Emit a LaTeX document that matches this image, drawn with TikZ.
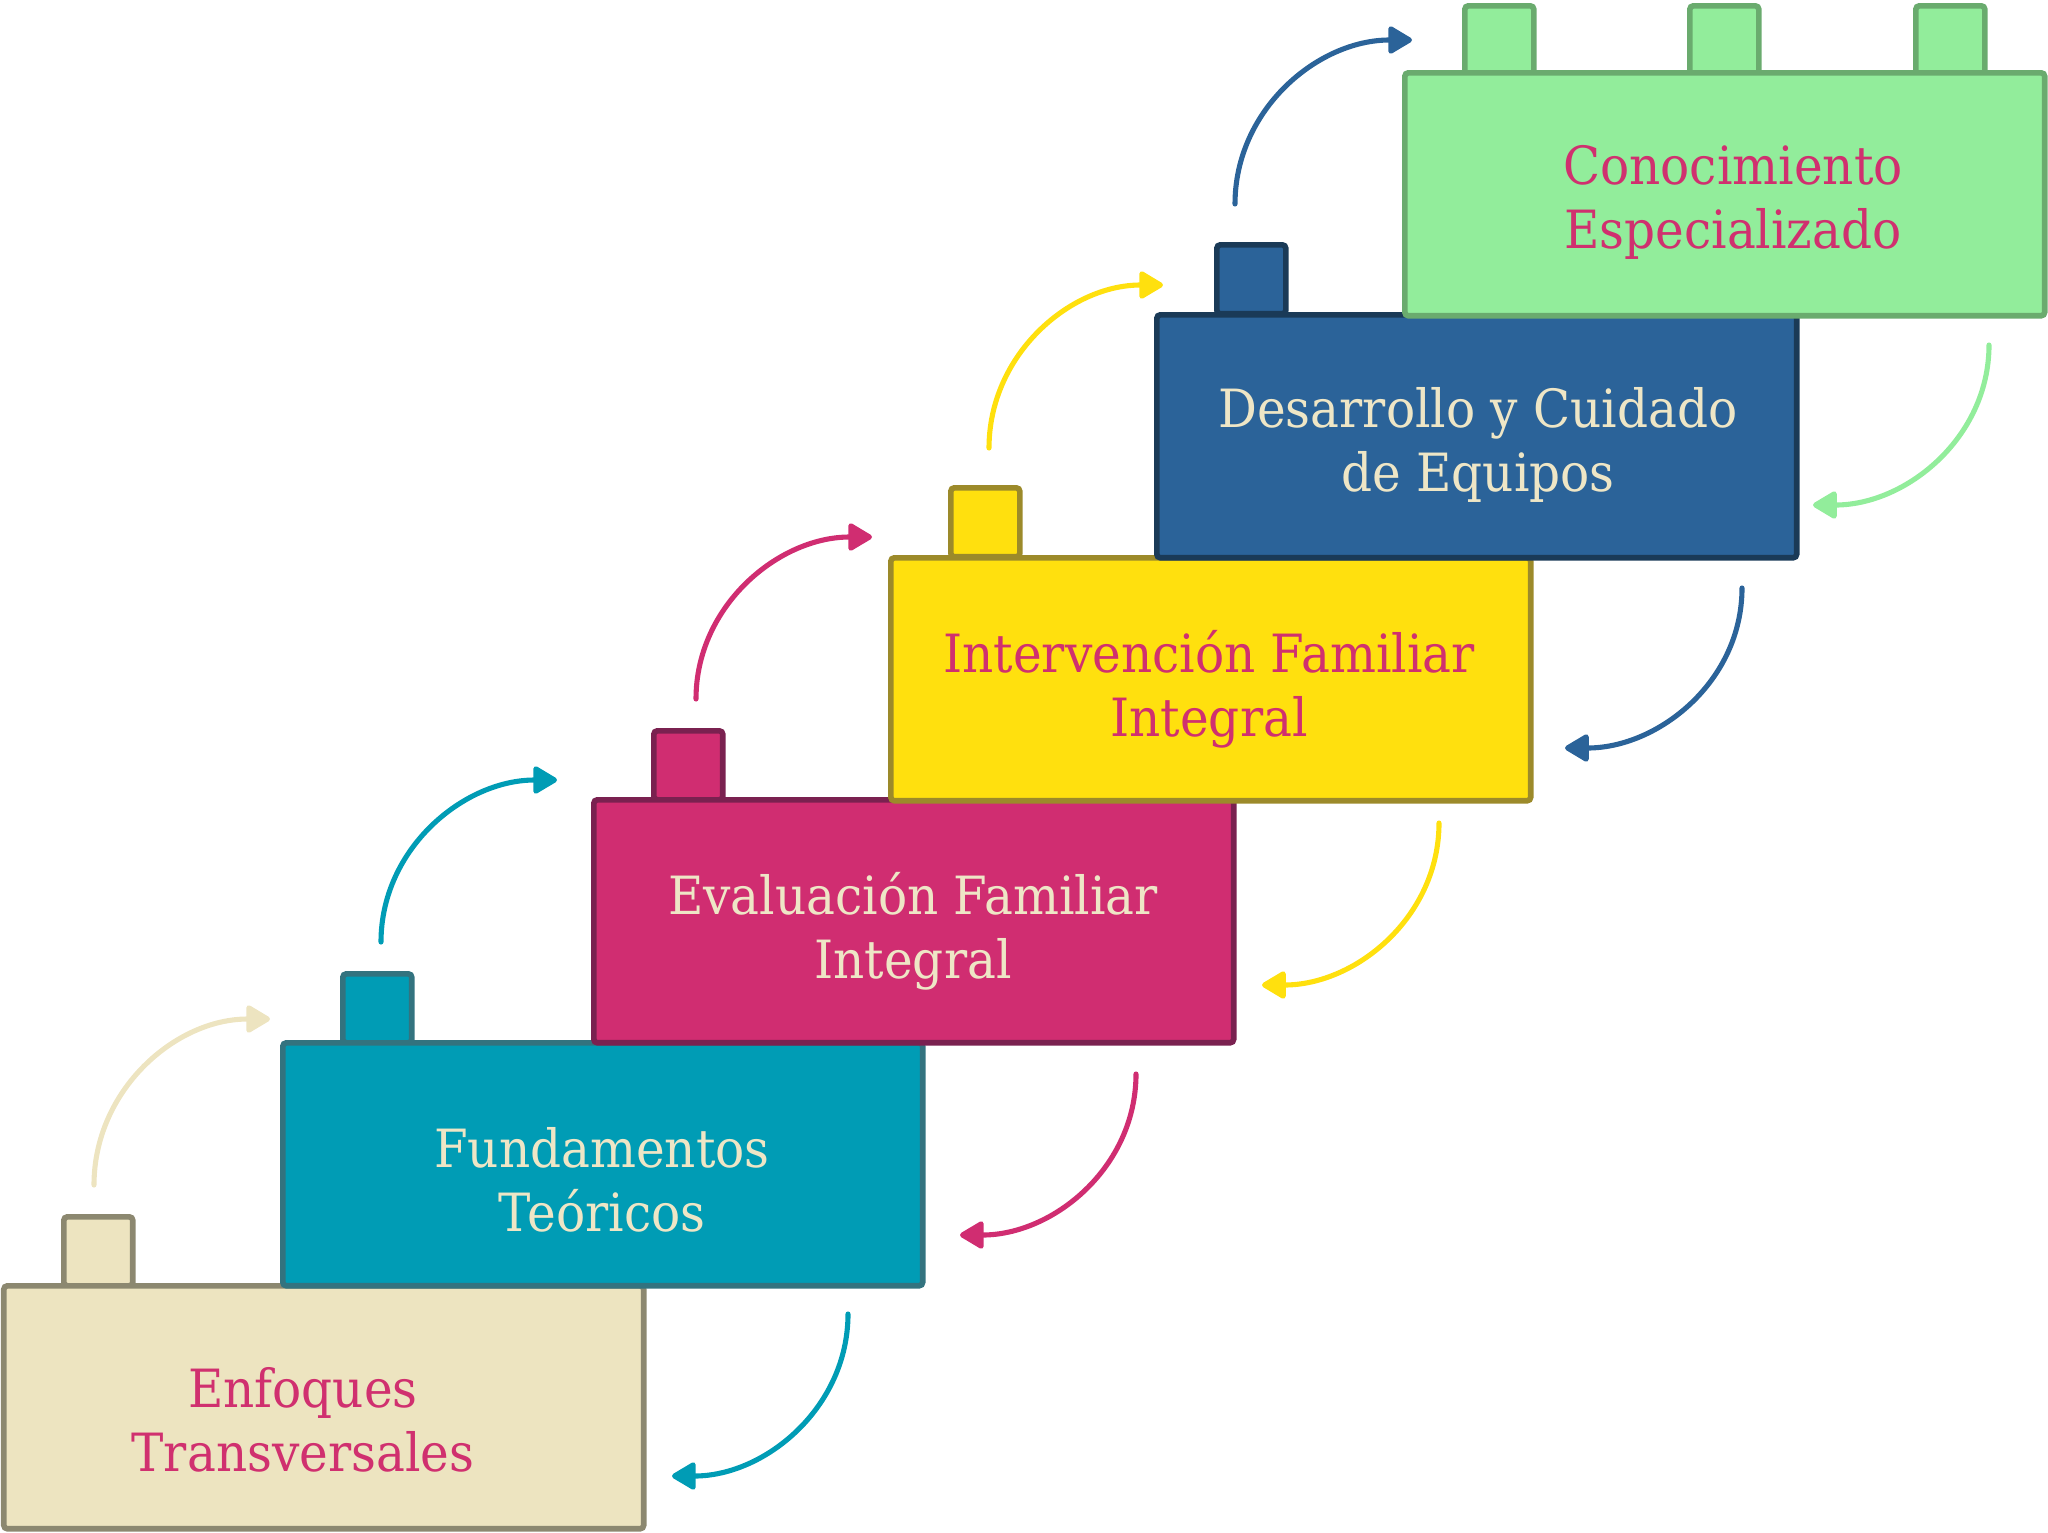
\documentclass[tikz,border=0pt]{standalone}
\usepackage{fontspec}
\setmainfont{DejaVu Serif}[FakeStretch=0.92]
\usetikzlibrary{arrows.meta}

\definecolor{sandfill}{HTML}{EDE4C0}
\definecolor{sandline}{HTML}{8C8870}
\definecolor{seafill}{HTML}{009CB5}
\definecolor{sealine}{HTML}{33737F}
\definecolor{rosefill}{HTML}{D02D71}
\definecolor{roseline}{HTML}{7A2150}
\definecolor{sunfill}{HTML}{FFE00E}
\definecolor{sunline}{HTML}{9C8A2A}
\definecolor{navyfill}{HTML}{2B6399}
\definecolor{navyline}{HTML}{1A3A57}
\definecolor{mintfill}{HTML}{92ED9B}
\definecolor{mintline}{HTML}{6AAB6E}
\definecolor{pinktext}{HTML}{D0306F}
\definecolor{creamtext}{HTML}{EEE6C6}

\begin{document}
\begin{tikzpicture}[x=0.02cm,y=-0.02cm,
        block/.style={draw,line width=3.2pt,rounded corners=2pt,anchor=north west,
            minimum width=12.8cm,minimum height=4.86cm,inner sep=0pt},
        tab/.style={draw,line width=3.2pt,rounded corners=2pt,anchor=north west,
            minimum width=1.38cm,minimum height=1.38cm,inner sep=0pt},
        blocktext/.style={align=center,font=\fontsize{30}{36.5}\selectfont},
        flow/.style={line width=2.9pt,line cap=round,-{Triangle[round,length=15pt,width=17pt]}}]
        \useasboundingbox (0,0) rectangle (2048,1532);

        % steps, bottom to top
        \node[tab,fill=sandfill,draw=sandline] (t1) at (61,1214) {};
        \node[block,fill=sandfill,draw=sandline] (b1) at (1,1283) {};
        \node[blocktext,text=pinktext] (l1) at (303,1420) {Enfoques\\Transversales};

        \node[tab,fill=seafill,draw=sealine] (t2) at (340,971) {};
        \node[block,fill=seafill,draw=sealine] (b2) at (280,1040) {};
        \node[blocktext,text=creamtext] (l2) at (602,1180) {Fundamentos\\Teóricos};

        \node[tab,fill=rosefill,draw=roseline] (t3) at (651,728) {};
        \node[block,fill=rosefill,draw=roseline] (b3) at (591,797) {};
        \node[blocktext,text=creamtext] (l3) at (913,931) {Evaluación Familiar\\Integral};

        \node[tab,fill=sunfill,draw=sunline] (t4) at (948,485) {};
        \node[block,fill=sunfill,draw=sunline] (b4) at (888,555) {};
        \node[blocktext,text=pinktext] (l4) at (1209,689) {Intervención Familiar\\Integral};

        \node[tab,fill=navyfill,draw=navyline] (t5) at (1214,242) {};
        \node[block,fill=navyfill,draw=navyline] (b5) at (1154,312) {};
        \node[blocktext,text=creamtext] (l5) at (1478,445) {Desarrollo y Cuidado\\de Equipos};

        \node[tab,fill=mintfill,draw=mintline] (t6a) at (1462,3) {};
        \node[tab,fill=mintfill,draw=mintline] (t6b) at (1687,3) {};
        \node[tab,fill=mintfill,draw=mintline] (t6c) at (1913,3) {};
        \node[block,fill=mintfill,draw=mintline] (b6) at (1402,70) {};
        \node[blocktext,text=pinktext] (l6) at (1733,202) {Conocimiento\\Especializado};

        % arrow ends
        \coordinate (up1s) at (94,1185);   \coordinate (up1e) at (270,1019);
        \coordinate (up2s) at (381,942);   \coordinate (up2e) at (557,780);
        \coordinate (up3s) at (696,699);   \coordinate (up3e) at (872,537);
        \coordinate (up4s) at (989,448);   \coordinate (up4e) at (1163,285);
        \coordinate (up5s) at (1235,204);  \coordinate (up5e) at (1412,40);
        \coordinate (dn6s) at (1989,345);  \coordinate (dn6e) at (1813,505);
        \coordinate (dn5s) at (1742,588);  \coordinate (dn5e) at (1565,748);
        \coordinate (dn4s) at (1439,823);  \coordinate (dn4e) at (1262,985);
        \coordinate (dn3s) at (1136,1074); \coordinate (dn3e) at (960,1235);
        \coordinate (dn2s) at (848,1314);  \coordinate (dn2e) at (672,1476);

        \draw[flow,sandfill] (up1s) to[out=90,in=180] (up1e);
        \draw[flow,seafill] (up2s) to[out=90,in=180] (up2e);
        \draw[flow,rosefill] (up3s) to[out=90,in=180] (up3e);
        \draw[flow,sunfill] (up4s) to[out=90,in=180] (up4e);
        \draw[flow,navyfill] (up5s) to[out=90,in=180] (up5e);

        \draw[flow,mintfill] (dn6s) to[out=-90,in=0] (dn6e);
        \draw[flow,navyfill] (dn5s) to[out=-90,in=0] (dn5e);
        \draw[flow,sunfill] (dn4s) to[out=-90,in=0] (dn4e);
        \draw[flow,rosefill] (dn3s) to[out=-90,in=0] (dn3e);
        \draw[flow,seafill] (dn2s) to[out=-90,in=0] (dn2e);
    \end{tikzpicture}
\end{document}
